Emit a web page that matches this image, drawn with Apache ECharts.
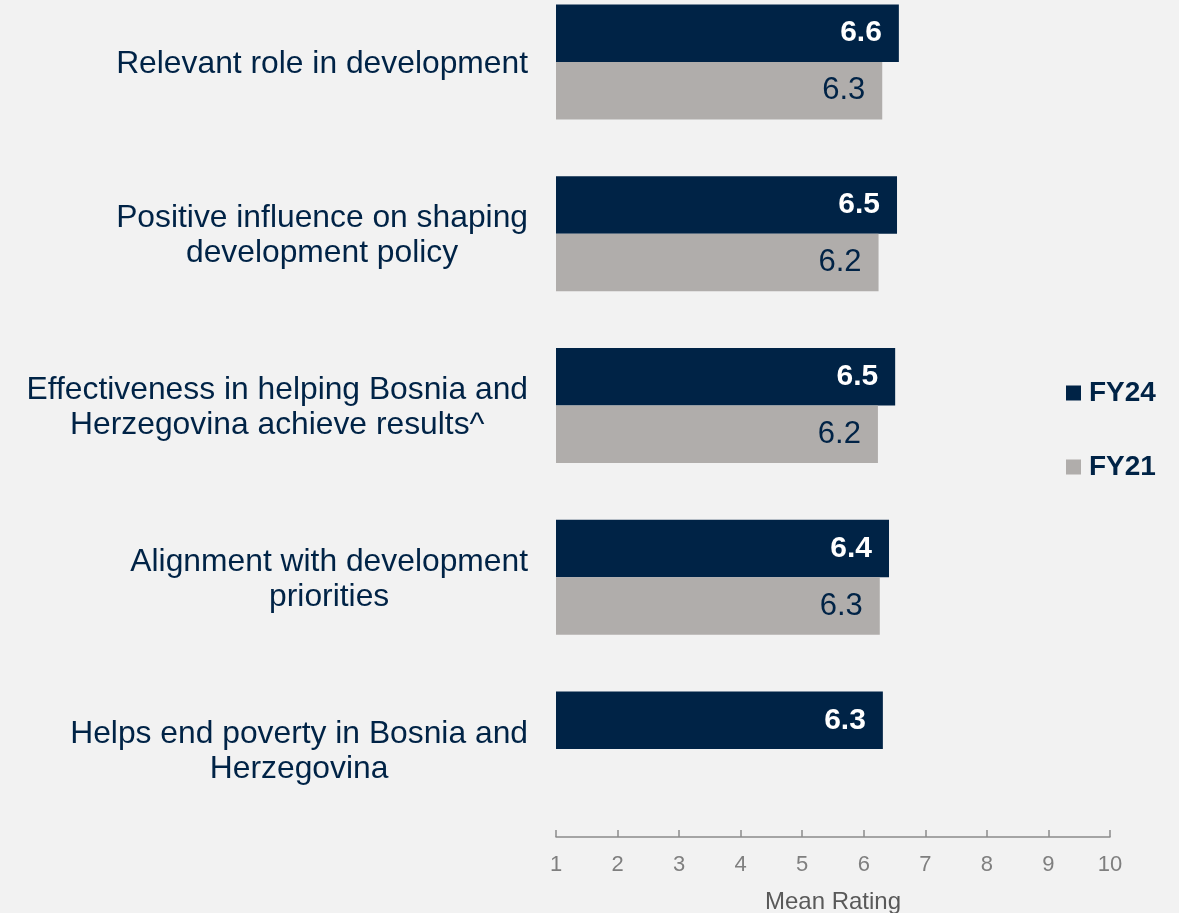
<!DOCTYPE html>
<html>
<head>
<meta charset="utf-8">
<title>Mean Rating</title>
<script src="https://cdn.jsdelivr.net/npm/echarts@6/dist/echarts.min.js"></script>
<style>
  html, body { margin: 0; padding: 0; background: #f2f2f2; }
  #chart { width: 1179px; height: 913px; }
</style>
</head>
<body>
<div id="chart"></div>
<script>
const categories = [
  "Relevant role in development",
  "Positive influence on shaping\ndevelopment policy",
  "Effectiveness in helping Bosnia and\nHerzegovina achieve results^",
  "Alignment with development\npriorities",
  "Helps end poverty in Bosnia and\nHerzegovina",
];
const fy24 = [6.57, 6.54, 6.51, 6.41, 6.31];
const fy21 = [6.3, 6.24, 6.23, 6.26, null];
const xTicks = [1, 10, 1]; // min, max, interval

const navy = "#002346";
const grey = "#b0adab";
const font = "Liberation Sans, Arial, sans-serif";

const chart = echarts.init(document.getElementById("chart"));

chart.setOption({
  backgroundColor: "#f2f2f2",
  animation: false,
  textStyle: { fontFamily: font },
  grid: {
    left: 556,
    right: 69,
    top: -24,
    bottom: 78,
    outerBoundsMode: "none",
    containLabel: false,
  },
  legend: {
    orient: "vertical",
    left: 1066,
    top: 379,
    padding: 0,
    itemWidth: 15,
    itemHeight: 15,
    itemGap: 46,
    icon: "rect",
    data: ["FY24", "FY21"],
    textStyle: {
      color: navy,
      fontSize: 28,
      fontWeight: "bold",
      lineHeight: 28,
      padding: [0, 0, 0, 3],
      fontFamily: font,
    },
  },
  xAxis: {
    type: "value",
    min: xTicks[0],
    max: xTicks[1],
    interval: xTicks[2],
    offset: 2,
    name: "Mean Rating",
    nameLocation: "middle",
    nameGap: 53,
    nameTextStyle: { color: "#595959", fontSize: 24, fontFamily: font },
    axisLine: { show: true, lineStyle: { color: "#8c8c8c", width: 1.5 } },
    axisTick: { show: true, inside: true, length: 7, lineStyle: { color: "#8c8c8c", width: 1.5 } },
    axisLabel: { color: "#7f7f7f", fontSize: 22, margin: 17, fontFamily: font },
    splitLine: { show: false },
  },
  yAxis: {
    type: "category",
    inverse: true,
    data: categories,
    axisLine: { show: false },
    axisTick: { show: false },
    axisLabel: {
      margin: 28,
      align: "right",
      padding: [5, 0, 0, 0],
      formatter: (v) => v.split("\n").map((s) => "{c|" + s + "}").join("\n"),
      rich: {
        c: {
          align: "center",
          color: navy,
          fontSize: 31.8,
          lineHeight: 35,
          fontFamily: font,
        },
      },
    },
  },
  series: [
    {
      name: "FY24",
      type: "bar",
      data: fy24,
      barWidth: 57.5,
      barGap: "0%",
      itemStyle: { color: navy },
      label: {
        show: true,
        position: "insideRight",
        distance: 17,
        color: "#ffffff",
        fontSize: 30,
        fontWeight: "bold",
        fontFamily: font,
        formatter: (p) => p.value.toFixed(1),
      },
    },
    {
      name: "FY21",
      type: "bar",
      data: fy21,
      barWidth: 57.5,
      barGap: "0%",
      itemStyle: { color: grey },
      label: {
        show: true,
        position: "insideRight",
        distance: 17,
        color: navy,
        fontSize: 31,
        fontFamily: font,
        formatter: (p) => (p.value == null ? "" : p.value.toFixed(1)),
      },
    },
  ],
});
</script>
</body>
</html>
